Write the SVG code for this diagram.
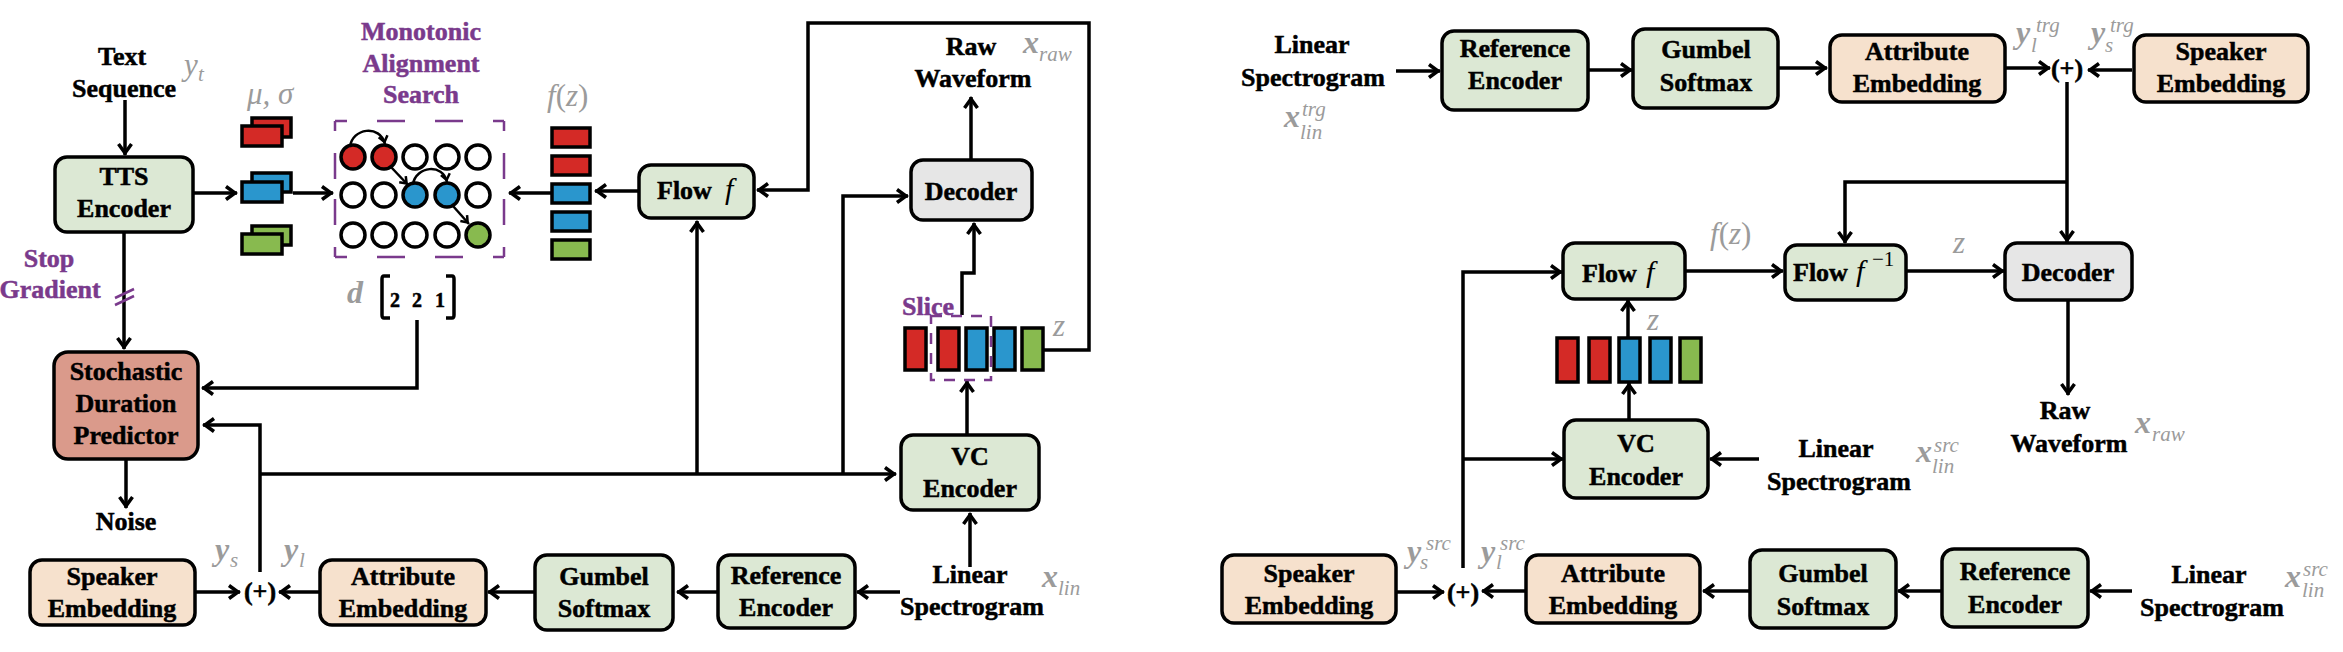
<svg xmlns="http://www.w3.org/2000/svg" width="2343" height="652" viewBox="0 0 2343 652">
<style>
.bx{stroke:#000;stroke-width:3.5}
.gr{fill:#DCE8D4}.pe{fill:#F6E1CD}.sd{fill:#DA9A8B}.dc{fill:#E6E6E6}
.t{font-family:"Liberation Serif",serif;font-weight:bold;font-size:26px;text-anchor:middle;fill:#000;stroke:#000;stroke-width:0.5}
.ts{font-family:"Liberation Serif",serif;font-weight:bold;font-size:26px;fill:#000;stroke:#000;stroke-width:0.5}
.fi{font-family:"Liberation Serif",serif;font-style:italic;font-size:30px;fill:#000}
.pu{font-family:"Liberation Serif",serif;font-weight:bold;font-size:26px;fill:#7A3A8C;stroke:#7A3A8C;stroke-width:0.5}
.m{font-family:"Liberation Serif",serif;font-style:italic;font-size:31px;fill:#9B9B9B}
.mb{font-family:"Liberation Serif",serif;font-style:italic;font-weight:bold;font-size:32px;fill:#9B9B9B}
.ms{font-family:"Liberation Serif",serif;font-style:italic;font-size:21px;fill:#9B9B9B}
.ln{fill:none;stroke:#000;stroke-width:3.5}
.a{marker-end:url(#ah)}
.as{fill:none;stroke:#000;stroke-width:2.5;marker-end:url(#ahs)}
.dash{fill:none;stroke:#7A3A8C;stroke-width:2.5}
.rd{fill:#D42A26}.bl{fill:#2A96CD}.gn{fill:#88BA4F}
.bar{stroke:#000;stroke-width:3.5}
</style>
<defs>
<marker id="ah" markerUnits="userSpaceOnUse" markerWidth="20" markerHeight="18" refX="14" refY="8" orient="auto">
<path d="M3,1.5 L12,8 L3,14.5" fill="none" stroke="#000" stroke-width="3.5"/>
</marker>
<marker id="ahs" markerUnits="userSpaceOnUse" markerWidth="14" markerHeight="12" refX="10" refY="6" orient="auto">
<path d="M2,1.5 L8,6 L2,10.5" fill="none" stroke="#000" stroke-width="2.5"/>
</marker>
</defs>
<rect width="2343" height="652" fill="#fff"/>

<g id="connectors">
<!-- left figure -->
<path class="ln a" d="M125,100 V155"/>
<path class="ln a" d="M193,193 H237"/>
<path class="ln a" d="M293,193 H333"/>
<path class="ln a" d="M551,193 H509"/>
<path class="ln a" d="M639,191 H595"/>
<path class="ln a" d="M124,232 V349"/>
<path class="ln a" d="M417,320 V388 H202"/>
<path class="ln a" d="M260,572 V425 H203"/>
<path class="ln a" d="M260,474 H896"/>
<path class="ln a" d="M697,474 V221"/>
<path class="ln a" d="M843,474 V196 H908"/>
<path class="ln a" d="M126,459 V508"/>
<path class="ln a" d="M195,592 H240"/>
<path class="ln a" d="M320,592 H279"/>
<path class="ln a" d="M535,592 H488"/>
<path class="ln a" d="M718,592 H677"/>
<path class="ln a" d="M900,592 H857"/>
<path class="ln a" d="M970,567 V513"/>
<path class="ln a" d="M967,435 V381"/>
<path class="ln a" d="M962,315 V273 H974 V223"/>
<path class="ln a" d="M971,160 V97"/>
<path class="ln a" d="M1044,350 H1089 V23 H808 V190 H757"/>
<!-- right figure -->
<path class="ln a" d="M1396,71 H1440"/>
<path class="ln a" d="M1588,70 H1632"/>
<path class="ln a" d="M1778,68 H1827"/>
<path class="ln a" d="M2005,68 H2050"/>
<path class="ln a" d="M2132,70 H2088"/>
<path class="ln a" d="M2067,82 V242"/>
<path class="ln a" d="M2067,182 H1845 V243"/>
<path class="ln a" d="M1685,271 H1783"/>
<path class="ln a" d="M1906,271 H2004"/>
<path class="ln a" d="M2068,300 V395"/>
<path class="ln a" d="M1759,459 H1710"/>
<path class="ln a" d="M1629,420 V383"/>
<path class="ln a" d="M1628,338 V300"/>
<path class="ln a" d="M1463,568 V272 H1562"/>
<path class="ln a" d="M1463,459 H1563"/>
<path class="ln a" d="M1396,592 H1444"/>
<path class="ln a" d="M1526,591 H1482"/>
<path class="ln a" d="M1750,591 H1703"/>
<path class="ln a" d="M1942,591 H1898"/>
<path class="ln a" d="M2132,591 H2090"/>
</g>

<!-- ============ LEFT FIGURE ============ -->
<g id="text-sequence">
<text class="t" x="122" y="65">Text</text>
<text class="t" x="124" y="97">Sequence</text>
<text class="m" x="184" y="75">y</text><text class="ms" x="198" y="81">t</text>
</g>

<g id="tts-encoder">
<rect class="bx gr" x="55" y="157" width="138" height="75" rx="12"/>
<text class="t" x="124" y="185">TTS</text>
<text class="t" x="124" y="217">Encoder</text>
</g>

<g id="stop-gradient">
<text class="pu" x="49" y="267" text-anchor="middle">Stop</text>
<text class="pu" x="50" y="298" text-anchor="middle">Gradient</text>
<path d="M115,298 L134,289 M115,305 L134,296" stroke="#7A3A8C" stroke-width="2.5" fill="none"/>
</g>

<g id="mu-sigma">
<text class="m" x="247" y="104">μ, σ</text>
<rect class="bar rd" x="252" y="118" width="39" height="19"/>
<rect class="bar rd" x="242" y="126" width="40" height="20"/>
<rect class="bar bl" x="252" y="173" width="39" height="19"/>
<rect class="bar bl" x="242" y="182" width="40" height="20"/>
<rect class="bar gn" x="252" y="226" width="39" height="19"/>
<rect class="bar gn" x="242" y="234" width="40" height="20"/>
</g>

<g id="mas">
<text class="pu" x="421" y="40" text-anchor="middle">Monotonic</text>
<text class="pu" x="421" y="72" text-anchor="middle">Alignment</text>
<text class="pu" x="421" y="103" text-anchor="middle">Search</text>
<path class="dash" d="M335,121 H504" stroke-dasharray="12 30 28 30 28 30 12"/>
<path class="dash" d="M335,257 H504" stroke-dasharray="12 30 28 30 28 30 12"/>
<path class="dash" d="M335,121 V257" stroke-dasharray="10 22 26 20 26 22 10"/>
<path class="dash" d="M504,121 V257" stroke-dasharray="10 22 26 20 26 22 10"/>
<g stroke="#000" stroke-width="3.5">
<circle cx="353" cy="157" r="12" class="rd"/>
<circle cx="384" cy="157" r="12" class="rd"/>
<circle cx="415" cy="157" r="12" fill="#fff"/>
<circle cx="447" cy="157" r="12" fill="#fff"/>
<circle cx="478" cy="157" r="12" fill="#fff"/>
<circle cx="353" cy="195" r="12" fill="#fff"/>
<circle cx="384" cy="195" r="12" fill="#fff"/>
<circle cx="415" cy="195" r="12" class="bl"/>
<circle cx="447" cy="195" r="12" class="bl"/>
<circle cx="478" cy="195" r="12" fill="#fff"/>
<circle cx="353" cy="235" r="12" fill="#fff"/>
<circle cx="384" cy="235" r="12" fill="#fff"/>
<circle cx="415" cy="235" r="12" fill="#fff"/>
<circle cx="447" cy="235" r="12" fill="#fff"/>
<circle cx="478" cy="235" r="12" class="gn"/>
</g>
<path class="as" d="M350,147 C352,128 380,124 385,144"/>
<path class="as" d="M391,167 L408,185"/>
<path class="as" d="M413,184 C416,166 443,163 447,182"/>
<path class="as" d="M453,206 L469,224"/>
</g>

<g id="durations">
<text class="mb" x="347" y="303">d</text>
<path class="ln" d="M390,276 H384 Q382,276 382,279 V315 Q382,318 384,318 H390"/>
<path class="ln" d="M446,276 H452 Q454,276 454,279 V315 Q454,318 452,318 H446"/>
<text class="ts" x="390" y="307" style="font-size:20px">2</text>
<text class="ts" x="412" y="307" style="font-size:20px">2</text>
<text class="ts" x="435" y="307" style="font-size:20px">1</text>
</g>

<g id="fz-bars">
<text class="m" x="547" y="106">f<tspan font-style="normal">(</tspan>z<tspan font-style="normal">)</tspan></text>
<rect class="bar rd" x="552" y="128" width="38" height="19"/>
<rect class="bar rd" x="552" y="156" width="38" height="19"/>
<rect class="bar bl" x="552" y="184" width="38" height="19"/>
<rect class="bar bl" x="552" y="212" width="38" height="19"/>
<rect class="bar gn" x="552" y="240" width="38" height="19"/>
</g>

<g id="flow-f">
<rect class="bx gr" x="639" y="165" width="115" height="53" rx="12"/>
<text class="ts" x="657" y="199">Flow</text>
<text class="fi" x="725" y="199">f</text>
</g>

<g id="decoder">
<rect class="bx dc" x="911" y="160" width="121" height="60" rx="12"/>
<text class="t" x="971" y="200">Decoder</text>
</g>

<g id="raw-waveform">
<text class="t" x="971" y="55">Raw</text>
<text class="t" x="973" y="87">Waveform</text>
<text class="mb" x="1023" y="53">x</text><text class="ms" x="1039" y="61">raw</text>
</g>

<g id="z-bars">
<text class="pu" x="902" y="315">Slice</text>
<rect class="bar rd" x="905" y="328" width="21" height="42"/>
<rect class="bar rd" x="938" y="328" width="21" height="42"/>
<rect class="bar bl" x="966" y="328" width="21" height="42"/>
<rect class="bar bl" x="994" y="328" width="21" height="42"/>
<rect class="bar gn" x="1022" y="328" width="21" height="42"/>
<rect class="dash" x="931" y="316" width="60" height="64" stroke-dasharray="11 9"/>
<text class="m" x="1053" y="336">z</text>
</g>

<g id="vc-encoder">
<rect class="bx gr" x="901" y="435" width="138" height="75" rx="12"/>
<text class="t" x="970" y="465">VC</text>
<text class="t" x="970" y="497">Encoder</text>
</g>

<g id="linear-spectrogram">
<text class="t" x="970" y="583">Linear</text>
<text class="t" x="972" y="615">Spectrogram</text>
<text class="mb" x="1042" y="587">x</text><text class="ms" x="1058" y="595">lin</text>
</g>

<g id="reference-encoder">
<rect class="bx gr" x="718" y="555" width="137" height="73" rx="12"/>
<text class="t" x="786" y="584">Reference</text>
<text class="t" x="786" y="616">Encoder</text>
</g>

<g id="gumbel-softmax">
<rect class="bx gr" x="535" y="555" width="138" height="75" rx="12"/>
<text class="t" x="604" y="585">Gumbel</text>
<text class="t" x="604" y="617">Softmax</text>
</g>

<g id="attribute-embedding">
<rect class="bx pe" x="320" y="560" width="166" height="65" rx="12"/>
<text class="t" x="403" y="585">Attribute</text>
<text class="t" x="403" y="617">Embedding</text>
</g>

<g id="sum">
<text class="t" x="260" y="600">(+)</text>
<text class="mb" x="215" y="560">y</text><text class="ms" x="230" y="567">s</text>
<text class="mb" x="284" y="560">y</text><text class="ms" x="299" y="567">l</text>
</g>

<g id="speaker-embedding">
<rect class="bx pe" x="30" y="560" width="165" height="65" rx="12"/>
<text class="t" x="112" y="585">Speaker</text>
<text class="t" x="112" y="617">Embedding</text>
</g>

<g id="sdp">
<rect class="bx sd" x="54" y="352" width="144" height="107" rx="14"/>
<text class="t" x="126" y="380">Stochastic</text>
<text class="t" x="126" y="412">Duration</text>
<text class="t" x="126" y="444">Predictor</text>
</g>

<g id="noise">
<text class="t" x="126" y="530">Noise</text>
</g>

<!-- ============ RIGHT FIGURE ============ -->
<g id="linear-spectrogram-trg">
<text class="t" x="1312" y="53">Linear</text>
<text class="t" x="1313" y="86">Spectrogram</text>
<text class="mb" x="1284" y="127">x</text><text class="ms" x="1302" y="116">trg</text><text class="ms" x="1300" y="139">lin</text>
</g>

<g id="reference-encoder-trg">
<rect class="bx gr" x="1442" y="31" width="146" height="79" rx="12"/>
<text class="t" x="1515" y="57">Reference</text>
<text class="t" x="1515" y="89">Encoder</text>
</g>

<g id="gumbel-softmax-trg">
<rect class="bx gr" x="1633" y="29" width="145" height="79" rx="12"/>
<text class="t" x="1706" y="58">Gumbel</text>
<text class="t" x="1706" y="91">Softmax</text>
</g>

<g id="attribute-embedding-trg">
<rect class="bx pe" x="1830" y="35" width="175" height="67" rx="12"/>
<text class="t" x="1917" y="60">Attribute</text>
<text class="t" x="1917" y="92">Embedding</text>
</g>

<g id="sum-trg">
<text class="t" x="2067" y="77">(+)</text>
<text class="mb" x="2016" y="43">y</text><text class="ms" x="2036" y="32">trg</text><text class="ms" x="2031" y="52">l</text>
<text class="mb" x="2091" y="43">y</text><text class="ms" x="2110" y="32">trg</text><text class="ms" x="2105" y="52">s</text>
</g>

<g id="speaker-embedding-trg">
<rect class="bx pe" x="2134" y="35" width="174" height="67" rx="12"/>
<text class="t" x="2221" y="60">Speaker</text>
<text class="t" x="2221" y="92">Embedding</text>
</g>

<g id="flow-f-r">
<rect class="bx gr" x="1563" y="243" width="122" height="56" rx="12"/>
<text class="ts" x="1582" y="282">Flow</text>
<text class="fi" x="1646" y="282">f</text>
<text class="m" x="1710" y="244">f<tspan font-style="normal">(</tspan>z<tspan font-style="normal">)</tspan></text>
</g>

<g id="flow-inv">
<rect class="bx gr" x="1785" y="245" width="121" height="55" rx="12"/>
<text class="ts" x="1793" y="281">Flow</text>
<text class="fi" x="1856" y="281">f</text>
<text x="1872" y="266" style="font-family:'Liberation Serif',serif;font-size:21px">−1</text>
<text class="m" x="1953" y="253">z</text>
</g>

<g id="decoder-r">
<rect class="bx dc" x="2005" y="243" width="127" height="57" rx="12"/>
<text class="t" x="2068" y="281">Decoder</text>
</g>

<g id="raw-waveform-r">
<text class="t" x="2065" y="419">Raw</text>
<text class="t" x="2069" y="452">Waveform</text>
<text class="mb" x="2135" y="433">x</text><text class="ms" x="2152" y="441">raw</text>
</g>

<g id="linear-spectrogram-src-mid">
<text class="t" x="1836" y="457">Linear</text>
<text class="t" x="1839" y="490">Spectrogram</text>
<text class="mb" x="1916" y="462">x</text><text class="ms" x="1934" y="452">src</text><text class="ms" x="1932" y="473">lin</text>
</g>

<g id="vc-encoder-r">
<rect class="bx gr" x="1564" y="420" width="144" height="78" rx="12"/>
<text class="t" x="1636" y="452">VC</text>
<text class="t" x="1636" y="485">Encoder</text>
</g>

<g id="z-bars-r">
<rect class="bar rd" x="1557" y="338" width="21" height="44"/>
<rect class="bar rd" x="1589" y="338" width="21" height="44"/>
<rect class="bar bl" x="1619" y="338" width="21" height="44"/>
<rect class="bar bl" x="1650" y="338" width="21" height="44"/>
<rect class="bar gn" x="1680" y="338" width="21" height="44"/>
<text class="m" x="1647" y="330">z</text>
</g>

<g id="speaker-embedding-src">
<rect class="bx pe" x="1222" y="555" width="174" height="68" rx="12"/>
<text class="t" x="1309" y="582">Speaker</text>
<text class="t" x="1309" y="614">Embedding</text>
</g>

<g id="sum-src">
<text class="t" x="1463" y="601">(+)</text>
<text class="mb" x="1407" y="562">y</text><text class="ms" x="1426" y="550">src</text><text class="ms" x="1420" y="569">s</text>
<text class="mb" x="1481" y="562">y</text><text class="ms" x="1500" y="550">src</text><text class="ms" x="1496" y="569">l</text>
</g>

<g id="attribute-embedding-src">
<rect class="bx pe" x="1526" y="555" width="174" height="68" rx="12"/>
<text class="t" x="1613" y="582">Attribute</text>
<text class="t" x="1613" y="614">Embedding</text>
</g>

<g id="gumbel-softmax-src">
<rect class="bx gr" x="1750" y="550" width="146" height="78" rx="12"/>
<text class="t" x="1823" y="582">Gumbel</text>
<text class="t" x="1823" y="615">Softmax</text>
</g>

<g id="reference-encoder-src">
<rect class="bx gr" x="1942" y="549" width="146" height="78" rx="12"/>
<text class="t" x="2015" y="580">Reference</text>
<text class="t" x="2015" y="613">Encoder</text>
</g>

<g id="linear-spectrogram-src">
<text class="t" x="2209" y="583">Linear</text>
<text class="t" x="2212" y="616">Spectrogram</text>
<text class="mb" x="2285" y="587">x</text><text class="ms" x="2303" y="576">src</text><text class="ms" x="2302" y="597">lin</text>
</g>
</svg>
